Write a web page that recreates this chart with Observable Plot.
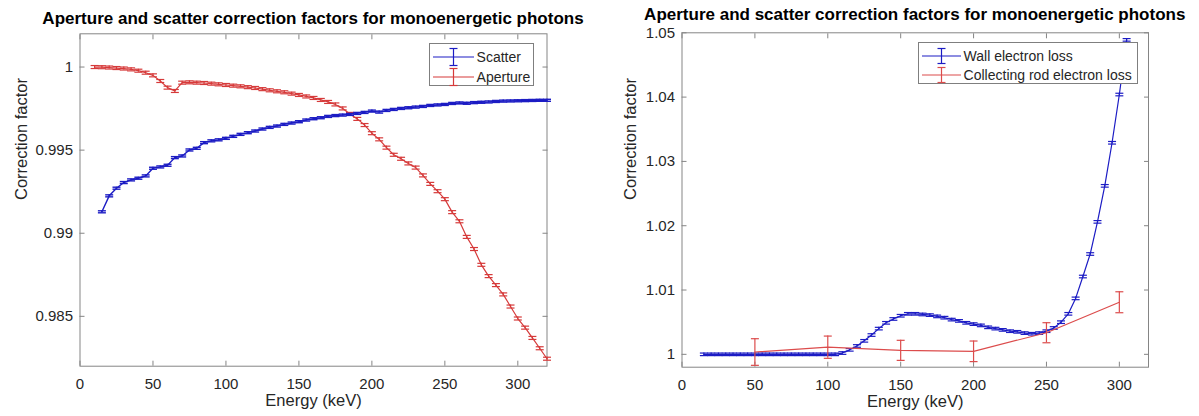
<!DOCTYPE html>
<html><head><meta charset="utf-8">
<script src="https://cdn.jsdelivr.net/npm/d3@7"></script>
<script src="https://cdn.jsdelivr.net/npm/@observablehq/plot@0.6"></script>
<style>
body{margin:0;background:#fff;font-family:"Liberation Sans",Arial,sans-serif;}
#wrap{position:relative;width:1199px;height:416px;overflow:hidden;}
.panel{position:absolute;top:0;height:416px;}
.title{position:absolute;font-weight:bold;font-size:17px;line-height:17px;color:#000;white-space:nowrap;transform:translateX(-50%);}
.legend{position:absolute;background:#fff;border:1px solid #7f7f7f;font-size:14px;color:#262626;box-sizing:border-box;}
.legend .row{position:absolute;left:0;height:20px;display:flex;align-items:center;white-space:nowrap;}
.legend svg{display:block;}
</style></head><body><div id="wrap"></div>
<script>
// ---------- data (left panel) ----------
const titleText = "Aperture and scatter correction factors for monoenergetic photons";
const xLabel = "Energy (keV)";
const yLabel = "Correction factor";
const xTicks = [0, 50, 100, 150, 200, 250, 300];
const leftYTicks = [0.985, 0.99, 0.995, 1];
const rightYTicks = [1, 1.01, 1.02, 1.03, 1.04, 1.05];

const scatterEnergy = [15,20,25,30,35,40,45,50,55,60,65,70,75,80,85,90,95,100,105,110,115,120,125,130,135,140,145,150,155,160,165,170,175,180,185,190,195,200,205,210,215,220,225,230,235,240,245,250,255,260,265,270,275,280,285,290,295,300,305,310,315,320];
const scatterValue = [0.99129,0.99225,0.99271,0.99305,0.99321,0.99331,0.99345,0.99391,0.99399,0.99409,0.99455,0.99465,0.99501,0.99511,0.99545,0.99556,0.99562,0.99571,0.99583,0.99595,0.99605,0.99615,0.99627,0.99637,0.99645,0.99655,0.99663,0.99671,0.99681,0.99689,0.99695,0.99703,0.99708,0.99711,0.99715,0.99721,0.99727,0.99735,0.99729,0.99739,0.99745,0.99751,0.99755,0.99759,0.99763,0.99769,0.99772,0.99775,0.99781,0.99784,0.99782,0.99786,0.99788,0.99790,0.99793,0.99795,0.99796,0.99797,0.99798,0.99799,0.99800,0.99800];
const scatterErr = 0.00006;

const apertureEnergy = [10,15,20,25,30,35,40,45,50,55,60,65,70,75,80,85,90,95,100,105,110,115,120,125,130,135,140,145,150,155,160,165,170,175,180,185,190,195,200,205,210,215,220,225,230,235,240,245,250,255,260,265,270,275,280,285,290,295,300,305,310,315,320];
const apertureValue = [1.00000,0.99999,0.99997,0.99994,0.99991,0.99986,0.99978,0.99966,0.99950,0.99916,0.99876,0.99856,0.99906,0.99908,0.99906,0.99904,0.99900,0.99896,0.99892,0.99888,0.99884,0.99879,0.99874,0.99867,0.99860,0.99854,0.99848,0.99840,0.99832,0.99823,0.99814,0.99802,0.99790,0.99775,0.99751,0.99718,0.99688,0.99651,0.99602,0.99565,0.99515,0.99472,0.99448,0.99420,0.99395,0.99348,0.99297,0.99253,0.99205,0.99127,0.99072,0.98978,0.98905,0.98810,0.98742,0.98688,0.98632,0.98559,0.98487,0.98432,0.98370,0.98308,0.98245];
const apertureErr = 0.00009;

// ---------- data (right panel) ----------
const wallEnergy = [15,20,25,30,35,40,45,50,55,60,65,70,75,80,85,90,95,100,105,110,115,120,125,130,135,140,145,150,155,160,165,170,175,180,185,190,195,200,205,210,215,220,225,230,235,240,245,250,255,260,265,270,275,280,285,290,295,300,305];
const wallValue = [1.0000,1.0000,1.0000,1.0000,1.0000,1.0000,1.0000,1.0000,1.0000,1.0000,1.0000,1.0000,1.0000,1.0000,1.0000,1.0000,1.0000,1.0000,1.0000,1.0002,1.0007,1.0013,1.0021,1.0030,1.0040,1.0049,1.0055,1.0060,1.0063,1.0063,1.0062,1.0061,1.0059,1.0057,1.0054,1.0052,1.0049,1.0047,1.0045,1.0042,1.0040,1.0038,1.0036,1.0035,1.0033,1.0032,1.0033,1.0036,1.0041,1.0050,1.0063,1.0087,1.0121,1.0156,1.0206,1.0262,1.0329,1.0404,1.0489];
const wallErr = 0.0002;

const rodEnergy = [50, 100, 150, 200, 250, 300];
const rodValue = [1.00036, 1.00111, 1.00062, 1.00047, 1.00336, 1.0081];
const rodErr = [0.00207, 0.00173, 0.00156, 0.0016, 0.00156, 0.00163];

const legendLeft = ["Scatter", "Aperture"];
const legendRight = ["Wall electron loss", "Collecting rod electron loss"];

// ---------- styles ----------
const BLUE = "#1c1cc4";
const RED = "#d63a3a";
const RED2 = "#dc4c4c";
const AXIS = "#858585";
const TXT = "#262626";

const cap = {draw(ctx, size) { const r = Math.sqrt(size / Math.PI); ctx.moveTo(-r, 0); ctx.lineTo(r, 0); }};

function series(es, vs, errs) {
  return es.map((e, i) => ({e, v: vs[i], err: Array.isArray(errs) ? errs[i] : errs}));
}
function errorMarks(data, color, sw) {
  return [
    Plot.line(data, {x: "e", y: "v", stroke: color, strokeWidth: sw}),
    Plot.ruleX(data, {x: "e", y1: d => d.v - d.err, y2: d => d.v + d.err, stroke: color, strokeWidth: sw}),
    Plot.dot(data, {x: "e", y: d => d.v - d.err, symbol: cap, r: 4, stroke: color, fill: "none", strokeWidth: sw}),
    Plot.dot(data, {x: "e", y: d => d.v + d.err, symbol: cap, r: 4, stroke: color, fill: "none", strokeWidth: sw})
  ];
}
function axes(yTicks, yLabelDx) {
  const common = {stroke: AXIS, color: TXT, fontSize: 15};
  return [
    Plot.frame({stroke: AXIS, strokeWidth: 1}),
    Plot.axisX({anchor: "bottom", ticks: xTicks, tickSize: -5, tickPadding: 17.6, tickFormat: d => String(d), label: null, ...common}),
    Plot.axisX({anchor: "top", ticks: xTicks, tickSize: -5, tickFormat: () => "", label: null, ...common}),
    Plot.axisY({anchor: "left", ticks: yTicks, tickSize: -5, tickPadding: 12, tickFormat: d => String(d), label: null, ...common}),
    Plot.axisY({anchor: "right", ticks: yTicks, tickSize: -5, tickFormat: () => "", label: null, ...common}),
    Plot.text([xLabel], {frameAnchor: "bottom", dy: 40, text: d => d, fontSize: 16.5, fill: TXT}),
    Plot.text([yLabel], {frameAnchor: "left", dx: yLabelDx, rotate: -90, text: d => d, fontSize: 16.5, fill: TXT})
  ];
}

const wrap = document.getElementById("wrap");

function addPanel(left, width, ml, mr, mt, mb, yDomain, yTicks, yLabelDx, titleTop, marks) {
  const div = document.createElement("div");
  div.className = "panel";
  div.style.left = left + "px";
  div.style.width = width + "px";
  const chart = Plot.plot({
    width, height: 416,
    marginLeft: ml, marginRight: mr, marginTop: mt, marginBottom: mb,
    style: {fontFamily: "'Liberation Sans', Arial, sans-serif", background: "transparent", overflow: "visible"},
    x: {domain: [0, 320]},
    y: {domain: yDomain},
    marks: [...axes(yTicks, yLabelDx), ...marks]
  });
  div.appendChild(chart);
  const t = document.createElement("div");
  t.className = "title";
  t.textContent = titleText;
  t.style.top = titleTop + "px";
  t.style.left = (ml + (width - ml - mr) / 2) + "px";
  div.appendChild(t);
  wrap.appendChild(div);
  return div;
}

function legendSwatch(color, w, errH) {
  const c = w / 2;
  return `<svg width="${w}" height="20"><line x1="0" y1="10" x2="${w}" y2="10" stroke="${color}" stroke-width="1.2"/>` +
    `<line x1="${c}" y1="${10 - errH / 2}" x2="${c}" y2="${10 + errH / 2}" stroke="${color}" stroke-width="1.2"/>` +
    `<line x1="${c - 4}" y1="${10 - errH / 2}" x2="${c + 4}" y2="${10 - errH / 2}" stroke="${color}" stroke-width="1.2"/>` +
    `<line x1="${c - 4}" y1="${10 + errH / 2}" x2="${c + 4}" y2="${10 + errH / 2}" stroke="${color}" stroke-width="1.2"/></svg>`;
}
function addLegend(parent, x, y, w, h, labels, colors, rowY, swX, swW, textGap, errH) {
  const lg = document.createElement("div");
  lg.className = "legend";
  lg.style.left = x + "px"; lg.style.top = y + "px";
  lg.style.width = w + "px"; lg.style.height = h + "px";
  labels.forEach((lab, i) => {
    const row = document.createElement("div");
    row.className = "row";
    row.style.top = (rowY[i] - 10) + "px";
    row.style.left = swX + "px";
    row.innerHTML = legendSwatch(colors[i], swW, errH) + `<span style="margin-left:${textGap}px">${lab}</span>`;
    lg.appendChild(row);
  });
  parent.appendChild(lg);
}

// Left panel
const leftMarks = [
  ...errorMarks(series(apertureEnergy, apertureValue, apertureErr), RED, 1.2),
  ...errorMarks(series(scatterEnergy, scatterValue, scatterErr), BLUE, 1.4)
];
const p1 = addPanel(0, 600, 79.5, 53.5, 33.3, 50.3, [0.982, 1.002], leftYTicks, -58.5, 10, leftMarks);
addLegend(p1, 428.6, 42.7, 105.4, 43.3, legendLeft, [BLUE, RED], [13, 33], 3, 41, 3, 17);

// Right panel
const rightMarks = [
  ...errorMarks(series(wallEnergy, wallValue, wallErr), BLUE, 1.2),
  ...errorMarks(series(rodEnergy, rodValue, rodErr), RED2, 1.2)
];
const p2 = addPanel(600, 599, 81.5, 51, 32.3, 49.3, [0.998, 1.05], rightYTicks, -51, 6, rightMarks);
addLegend(p2, 317.6, 41.7, 220, 42.3, legendRight, [BLUE, RED2], [13.3, 32.3], 3, 39, 3, 15);
</script></body></html>
